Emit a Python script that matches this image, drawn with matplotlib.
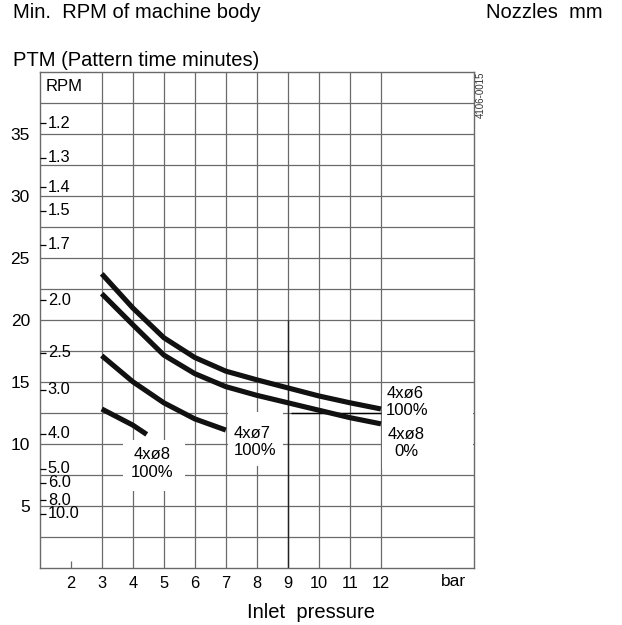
import matplotlib
matplotlib.use("Agg")
import matplotlib.pyplot as plt
from matplotlib.patches import Rectangle
import numpy as np

plt.rcParams['font.family'] = ['Liberation Sans', 'DejaVu Sans']

# ---------------- data ----------------
pressure_full = [3, 4, 5, 6, 7, 8, 9, 10, 11, 12]
rpm_6_100 = [23.7, 20.95, 18.55, 16.95, 15.85, 15.15, 14.5, 13.85, 13.3, 12.8]
rpm_8_0 = [22.1, 19.6, 17.15, 15.65, 14.6, 13.9, 13.3, 12.7, 12.1, 11.6]
pressure_7 = [3, 4, 5, 6, 7]
rpm_7_100 = [17.1, 15.0, 13.3, 12.0, 11.1]
pressure_8 = [3, 4, 4.45]
rpm_8_100 = [12.8, 11.5, 10.75]

x_ticks = [2, 3, 4, 5, 6, 7, 8, 9, 10, 11, 12]
y_ticks = [5, 10, 15, 20, 25, 30, 35]
ptm_labels = ['1.2', '1.3', '1.4', '1.5', '1.7', '2.0', '2.5', '3.0', '4.0',
              '5.0', '6.0', '8.0', '10.0']
ptm_rpm = [35.85, 33.05, 30.7, 28.8, 26.05, 21.55, 17.35, 14.35, 10.8,
           8.0, 6.85, 5.45, 4.35]

W, H = 622, 625
fig = plt.figure(figsize=(W / 100, H / 100), dpi=100)
fig.patch.set_facecolor('white')

left, right, top, bottom = 39.7, 474.0, 71.7, 567.7
ax = fig.add_axes([left / W, (H - bottom) / H, (right - left) / W, (bottom - top) / H])
ax.set_xlim(1, 15)
ax.set_ylim(0, 40)

grid_c = '#6a6a6a'
for s in ax.spines.values():
    s.set_color(grid_c)
    s.set_linewidth(1.0)

# grid
ax.hlines(np.arange(2.5, 40, 2.5), 1, 15, color=grid_c, lw=0.9, zorder=1)
ax.vlines(np.arange(3, 13), 0, 40, color=grid_c, lw=0.9, zorder=1)
# darker segments seen in the reference
ax.hlines([12.5], 9.1, 12, color='black', lw=1.0, zorder=1.5)
ax.vlines([9], 0, 20, color='#222222', lw=1.0, zorder=1.5)
# small tick at x=2
ax.vlines([2], 0, 0.55, color=grid_c, lw=0.9, zorder=1)

# white label boxes hiding grid
for (x0, y0, w, h) in [(3.69, 6.15, 2.0, 4.15), (7.08, 8.17, 1.77, 4.4), (12.04, 8.0, 2.92, 6.0)]:
    ax.add_patch(Rectangle((x0, y0), w, h, facecolor='white', edgecolor='none', zorder=2))

# curves
lw = 3.7
for xs, ys in [(pressure_full, rpm_6_100), (pressure_full, rpm_8_0),
               (pressure_7, rpm_7_100), (pressure_8, rpm_8_100)]:
    ax.plot(xs, ys, color='#111111', lw=lw, solid_capstyle='butt',
            solid_joinstyle='round', zorder=3)

# ticks
ax.set_xticks(x_ticks)
ax.set_xticklabels([str(v) for v in x_ticks])
ax.set_yticks(y_ticks)
ax.set_yticklabels([str(v) for v in y_ticks])
ax.tick_params(axis='both', length=0, colors='black')
ax.tick_params(axis='x', pad=6, labelsize=11.8)
ax.tick_params(axis='y', pad=7, labelsize=12.5)

# PTM secondary labels
for lab, r in zip(ptm_labels, ptm_rpm):
    ax.plot([1, 1.19], [r, r], color='black', lw=0.9, zorder=3, solid_capstyle='butt')
    ax.text(1.26, r, lab, fontsize=11.8, ha='left', va='center', zorder=4)

ax.text(1.2, 38.8, 'RPM', fontsize=12, ha='left', va='center', zorder=4)

# curve labels
lab_fs = 12
ax.text(4.62, 8.4, '4xø8\n100%', fontsize=lab_fs, ha='center', va='center',
        multialignment='center', linespacing=1.2, zorder=4)
ax.text(7.24, 10.15, '4xø7\n100%', fontsize=lab_fs, ha='left', va='center',
        linespacing=1.2, zorder=4)
ax.text(12.17, 13.38, '4xø6\n100%', fontsize=lab_fs, ha='left', va='center',
        linespacing=1.2, zorder=4)
ax.text(12.82, 10.05, '4xø8\n0%', fontsize=lab_fs, ha='center', va='center',
        multialignment='center', linespacing=1.2, zorder=4)

# figure texts
def ft(x, y, s, **kw):
    fig.text(x / W, 1 - y / H, s, **kw)

big = 14.5
ft(453, 581, 'bar', fontsize=12.5, ha='center', va='center')
ft(13, 13, 'Min.  RPM of machine body', fontsize=big, ha='left', va='center')
ft(486, 13, 'Nozzles  mm', fontsize=big, ha='left', va='center')
ft(13, 61, 'PTM (Pattern time minutes)', fontsize=big, ha='left', va='center')
ft(311, 612, 'Inlet  pressure', fontsize=big, ha='center', va='center')
ft(481, 95, '4106-0015', fontsize=7, ha='center', va='center', rotation=90,
   color='#333333')

fig.savefig('out.png', dpi=100)
